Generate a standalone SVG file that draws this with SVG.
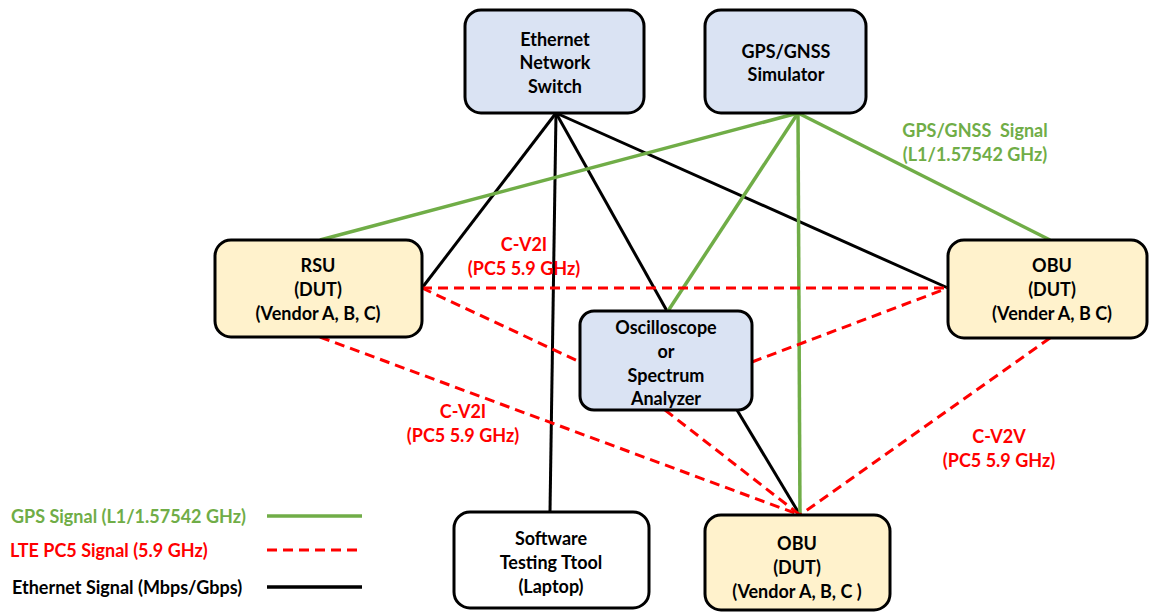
<svg xmlns="http://www.w3.org/2000/svg" width="1151" height="612" viewBox="0 0 1151 612">
  <style>
    .box { stroke: #000; stroke-width: 3; }
    .blue { fill: #DAE3F3; }
    .tan { fill: #FFF2CC; }
    .white { fill: #FFFFFF; }
    text { font-family: Lato, "Liberation Sans", sans-serif; font-weight: bold; font-size: 18px; text-anchor: middle; }
    .lbl { fill: #000; }
    .red { fill: #FF0000; }
    .green { fill: #70AD47; }
    .leg { text-anchor: start; }
    .eth { stroke: #000; stroke-width: 3; fill: none; }
    .gps { stroke: #70AD47; stroke-width: 3.5; fill: none; }
    .lte { stroke: #FF0000; stroke-width: 3; stroke-dasharray: 10 6; fill: none; }
  </style>

  <!-- connectors -->
  <g id="connectors">
    <!-- ethernet -->
    <line class="eth" x1="556" y1="113" x2="422" y2="288"/>
    <line class="eth" x1="556" y1="113" x2="550" y2="512"/>
    <line class="eth" x1="556" y1="113" x2="667" y2="311"/>
    <line class="eth" x1="556" y1="113" x2="948" y2="288"/>
    <line class="eth" x1="737" y1="410" x2="800" y2="515"/>
    <!-- GPS -->
    <line class="gps" x1="798" y1="113" x2="320" y2="240"/>
    <line class="gps" x1="798" y1="113" x2="668" y2="311"/>
    <line class="gps" x1="798" y1="113" x2="800" y2="515"/>
    <line class="gps" x1="798" y1="113" x2="1050" y2="240"/>
    <!-- PC5 sidelink -->
    <line class="lte" x1="422" y1="288" x2="948" y2="288"/>
    <line class="lte" x1="422" y1="288" x2="580" y2="362"/>
    <line class="lte" x1="752" y1="362" x2="948" y2="288"/>
    <line class="lte" x1="320" y1="337" x2="800" y2="515"/>
    <line class="lte" x1="665" y1="410" x2="800" y2="515"/>
    <line class="lte" x1="1050" y1="338" x2="800" y2="515"/>
  </g>

  <!-- connector labels -->
  <g id="labels">
    <text class="red" x="524" y="251">C-V2I</text>
    <text class="red" x="524" y="275">(PC5 5.9 GHz)</text>
    <text class="red" x="463" y="418">C-V2I</text>
    <text class="red" x="463" y="442">(PC5 5.9 GHz)</text>
    <text class="red" x="999" y="443">C-V2V</text>
    <text class="red" x="999" y="467">(PC5 5.9 GHz)</text>
    <text class="green" x="975" y="137" xml:space="preserve">GPS/GNSS  Signal</text>
    <text class="green" x="975" y="161">(L1/1.57542 GHz)</text>
  </g>

  <g id="switch">
    <rect class="box blue" x="465" y="10" width="179" height="103" rx="16"/>
    <text class="lbl" x="555" y="46">Ethernet</text>
    <text class="lbl" x="555" y="69">Network</text>
    <text class="lbl" x="555" y="93">Switch</text>
  </g>

  <g id="gnss">
    <rect class="box blue" x="705" y="10" width="161" height="103" rx="16"/>
    <text class="lbl" x="786" y="58">GPS/GNSS</text>
    <text class="lbl" x="786" y="81">Simulator</text>
  </g>

  <g id="rsu">
    <rect class="box tan" x="215" y="240" width="207" height="97" rx="16"/>
    <text class="lbl" x="318" y="272">RSU</text>
    <text class="lbl" x="318" y="296">(DUT)</text>
    <text class="lbl" x="318" y="320">(Vendor A, B, C)</text>
  </g>

  <g id="obu-right">
    <rect class="box tan" x="948" y="240" width="199" height="98" rx="16"/>
    <text class="lbl" x="1052" y="272">OBU</text>
    <text class="lbl" x="1052" y="296">(DUT)</text>
    <text class="lbl" x="1052" y="320">(Vender A, B C)</text>
  </g>

  <g id="analyzer">
    <rect class="box blue" x="580" y="311" width="172" height="99" rx="14"/>
    <text class="lbl" x="666" y="334">Oscilloscope</text>
    <text class="lbl" x="666" y="358">or</text>
    <text class="lbl" x="666" y="382">Spectrum</text>
    <text class="lbl" x="666" y="405">Analyzer</text>
  </g>

  <g id="laptop">
    <rect class="box white" x="454" y="512" width="195" height="96" rx="16"/>
    <text class="lbl" x="551" y="545">Software</text>
    <text class="lbl" x="551" y="569">Testing Ttool</text>
    <text class="lbl" x="551" y="593">(Laptop)</text>
  </g>

  <g id="obu-bottom">
    <rect class="box tan" x="705" y="515" width="185" height="95" rx="16"/>
    <text class="lbl" x="797" y="550">OBU</text>
    <text class="lbl" x="797" y="574">(DUT)</text>
    <text class="lbl" x="797" y="598">(Vendor A, B, C )</text>
  </g>

  <!-- legend -->
  <g id="legend">
    <text class="green leg" x="11" y="523">GPS Signal (L1/1.57542 GHz)</text>
    <line class="gps" x1="267" y1="516" x2="362" y2="516"/>
    <text class="red leg" x="10" y="557">LTE PC5 Signal (5.9 GHz)</text>
    <line class="lte" x1="267" y1="550" x2="362" y2="550"/>
    <text class="lbl leg" x="12" y="594">Ethernet Signal (Mbps/Gbps)</text>
    <line class="eth" x1="267" y1="587" x2="362" y2="587" style="stroke-width:3.5"/>
  </g>
</svg>
